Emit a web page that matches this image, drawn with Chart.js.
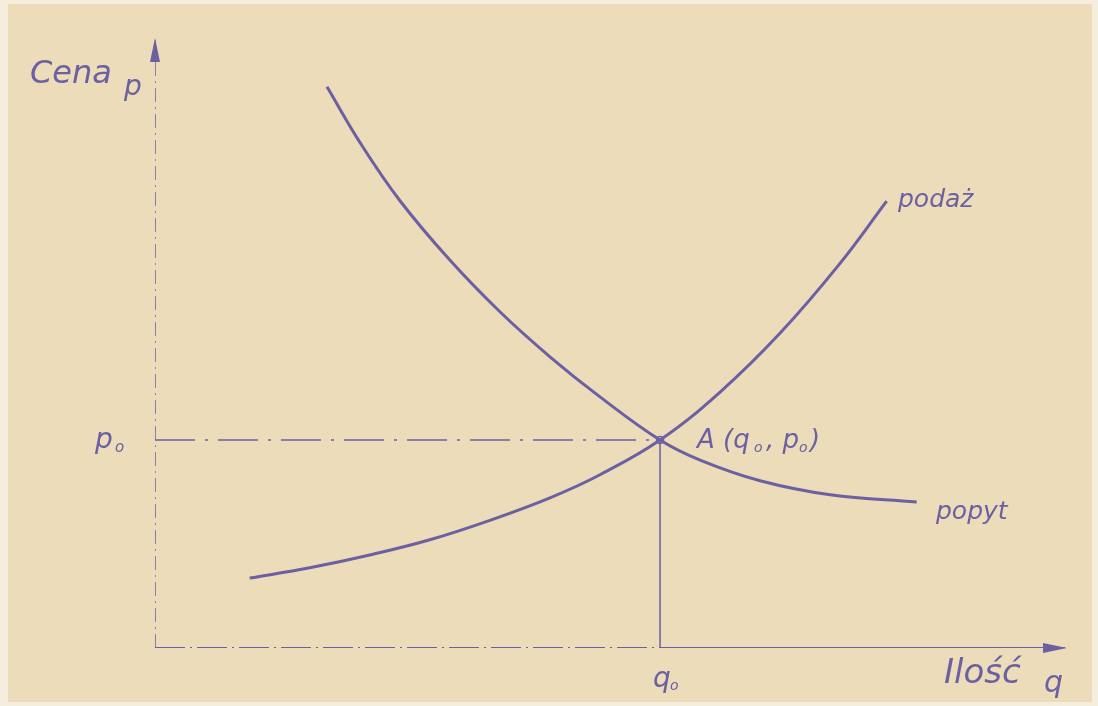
<!DOCTYPE html>
<html>
<head>
<meta charset="utf-8">
<script src="https://cdn.jsdelivr.net/npm/chart.js@4"></script>
<style>
  html, body { margin: 0; padding: 0; background: #f3ead8; }
  #wrap { width: 1098px; height: 706px; }
</style>
</head>
<body>
<div id="wrap"><canvas id="chart" width="1098" height="706"></canvas></div>
<script>
// quantity / price in arbitrary units (0..100)
const supplyQ = [10.4, 17.0, 23.6, 30.2, 36.8, 43.4, 48.9, 55.5, 62.1, 68.7, 75.3, 80.4];
const supplyP = [11.5, 13.2, 15.3, 17.8, 21.0, 24.7, 28.5, 34.2, 42.1, 51.8, 63.3, 73.5];
const demandQ = [18.9, 22.5, 26.9, 32.4, 37.9, 43.4, 48.9, 55.5, 59.9, 66.5, 74.2, 83.7];
const demandP = [92.3, 83.2, 73.6, 63.8, 55.3, 47.9, 41.3, 34.2, 30.9, 27.5, 25.2, 24.0];
const q0 = 55.5;
const p0 = 34.2;
const axisMaxQ = 100;
const axisMaxP = 100;

const ink = "#6a60a2";
const paper = "#ecdcb9";

const pts = (xs, ys) => xs.map((x, i) => ({ x, y: ys[i] }));

const paperPlugin = {
    id: "paper",
    beforeDraw(chart) {
        const c = chart.ctx;
        c.save();
        c.fillStyle = "#f5eedf";
        c.fillRect(0, 0, chart.width, chart.height);
        c.fillStyle = paper;
        c.fillRect(8, 4, chart.width - 14, chart.height - 8);
        c.restore();
    }
};

const labelsPlugin = {
    id: "labels",
    afterDatasetsDraw(chart) {
        const c = chart.ctx;
        const xs = chart.scales.x, ys = chart.scales.y;
        const X = v => xs.getPixelForValue(v), Y = v => ys.getPixelForValue(v);
        c.save();
        c.fillStyle = ink;
        c.strokeStyle = ink;

        // arrow heads
        c.beginPath();
        c.moveTo(X(0), Y(axisMaxP) - 2);
        c.lineTo(X(0) - 5, Y(axisMaxP) + 22);
        c.lineTo(X(0) + 5, Y(axisMaxP) + 22);
        c.closePath();
        c.fill();
        c.beginPath();
        c.moveTo(X(axisMaxQ) + 2, Y(0));
        c.lineTo(X(axisMaxQ) - 22, Y(0) - 5);
        c.lineTo(X(axisMaxQ) - 22, Y(0) + 5);
        c.closePath();
        c.fill();

        const txt = (s, x, y, size, align) => {
            c.font = "italic " + size + "px 'DejaVu Sans', sans-serif";
            c.textAlign = align || "left";
            c.textBaseline = "middle";
            c.fillText(s, x, y);
        };
        txt("Cena", 30, 75, 32);
        txt("p", 124, 88, 28);
        txt("p", 95, 441, 28);
        txt("o", 115, 448, 15);
        txt("A (q", 697, 441, 26);
        txt("o", 754, 448, 14);
        txt(", p", 766, 441, 26);
        txt("o", 799, 448, 14);
        txt(")", 810, 441, 26);
        txt("podaż", 898, 200, 25);
        txt("popyt", 936, 512, 25);
        txt("q", 653, 680, 28);
        txt("o", 670, 686, 14);
        txt("Ilość", 944, 674, 34);
        txt("q", 1044, 684, 30);
        c.restore();
    }
};

new Chart(document.getElementById("chart"), {
    type: "scatter",
    data: {
        datasets: [
            {
                label: "podaż",
                data: pts(supplyQ, supplyP),
                showLine: true,
                tension: 0.4,
                borderColor: ink,
                borderWidth: 3,
                pointRadius: 0
            },
            {
                label: "popyt",
                data: pts(demandQ, demandP),
                showLine: true,
                tension: 0.4,
                borderColor: ink,
                borderWidth: 3,
                pointRadius: 0
            },
            {
                label: "p0",
                data: [{ x: 0, y: p0 }, { x: q0, y: p0 }],
                showLine: true,
                borderColor: ink,
                borderWidth: 1.6,
                borderDash: [40, 10, 3, 10],
                pointRadius: 0
            },
            {
                label: "q0",
                data: [{ x: q0, y: p0 }, { x: q0, y: 0 }],
                showLine: true,
                borderColor: ink,
                borderWidth: 1.5,
                pointRadius: 0
            },
            {
                label: "oś p",
                data: [{ x: 0, y: 0 }, { x: 0, y: axisMaxP }],
                showLine: true,
                borderColor: ink,
                borderWidth: 1.5,
                borderDash: [14, 5, 2, 5],
                pointRadius: 0
            },
            {
                label: "oś q lewa",
                data: [{ x: 0, y: 0 }, { x: q0, y: 0 }],
                showLine: true,
                borderColor: ink,
                borderWidth: 1.8,
                borderDash: [30, 5, 2, 5],
                pointRadius: 0
            },
            {
                label: "oś q prawa",
                data: [{ x: q0, y: 0 }, { x: axisMaxQ, y: 0 }],
                showLine: true,
                borderColor: ink,
                borderWidth: 1.8,
                pointRadius: 0
            },
            {
                label: "A",
                data: [{ x: q0, y: p0 }],
                pointRadius: 3.5,
                pointBackgroundColor: "#f4ead4",
                pointBorderColor: ink,
                pointBorderWidth: 1.5
            }
        ]
    },
    options: {
        responsive: false,
        animation: false,
        layout: { padding: { left: 155, right: 33, top: 40, bottom: 58 } },
        plugins: { legend: { display: false }, tooltip: { enabled: false } },
        scales: {
            x: { type: "linear", min: 0, max: axisMaxQ, display: false },
            y: { type: "linear", min: 0, max: axisMaxP, display: false }
        }
    },
    plugins: [paperPlugin, labelsPlugin]
});
</script>
</body>
</html>
